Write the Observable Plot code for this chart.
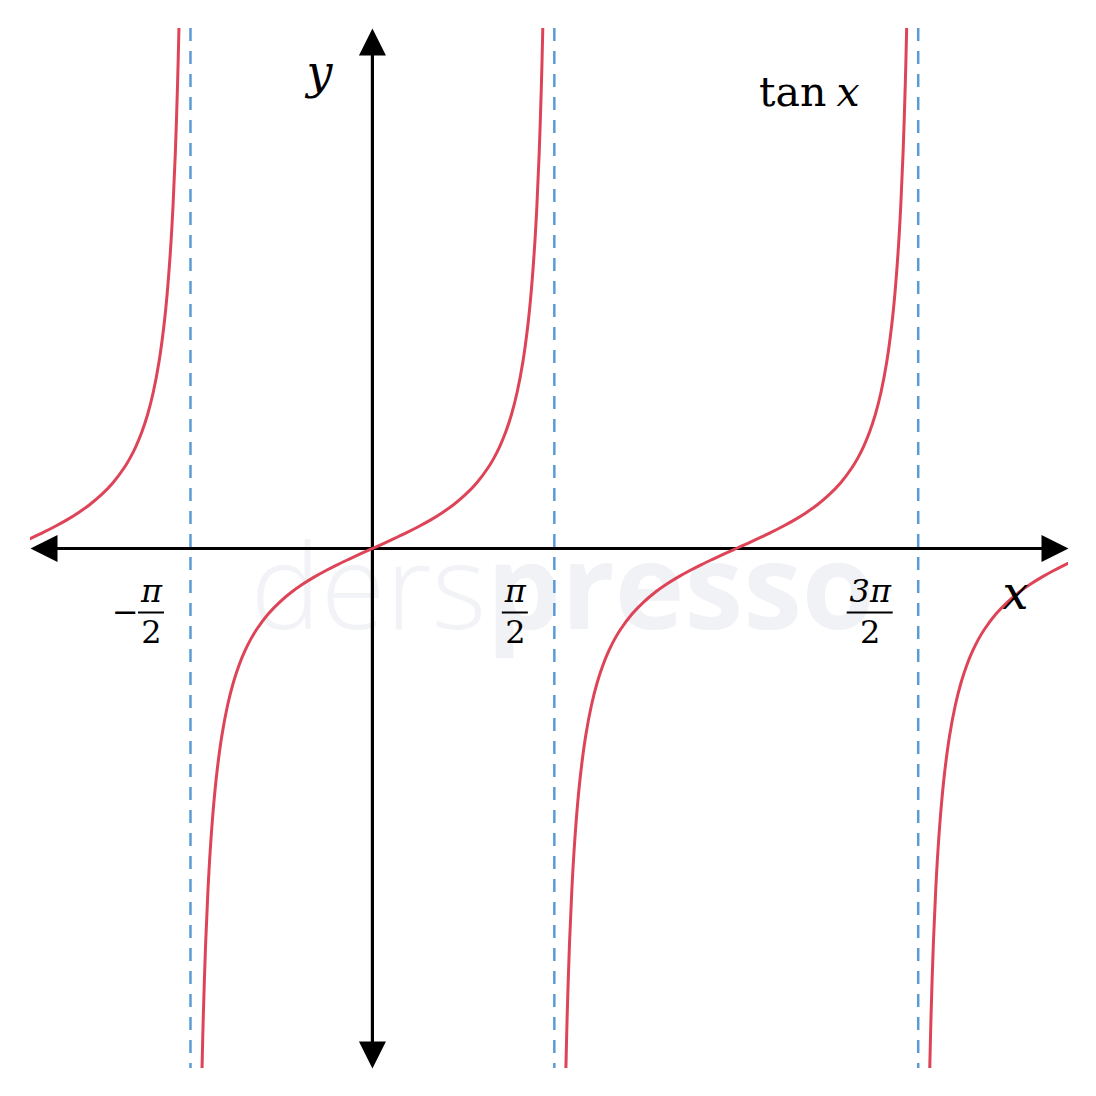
<!DOCTYPE html>
<html><head><meta charset="utf-8">
<script src="https://cdn.jsdelivr.net/npm/d3@7"></script>
<script src="https://cdn.jsdelivr.net/npm/@observablehq/plot@0.6"></script>
<style>body{margin:0;background:#fff}</style>
</head><body><div id="chart"></div>
<script>
// ---- data ----
const branchCenters = [-3.1416, 0, 3.1416, 6.2832];
const offsets = [-1.4711, -1.46, -1.44, -1.42, -1.40, -1.37, -1.34, -1.30, -1.25, -1.20, -1.15, -1.10, -1.05, -1.00, -0.90, -0.80, -0.70, -0.60, -0.50, -0.40, -0.30, -0.20, -0.10, 0,
                 0.10, 0.20, 0.30, 0.40, 0.50, 0.60, 0.70, 0.80, 0.90, 1.00, 1.05, 1.10, 1.15, 1.20, 1.25, 1.30, 1.34, 1.37, 1.40, 1.42, 1.44, 1.46, 1.4711];
const tanValues = [-10, -8.988, -7.602, -6.581, -5.798, -4.913, -4.255, -3.602, -3.010, -2.572, -2.234, -1.965, -1.743, -1.557, -1.260, -1.030, -0.842, -0.684, -0.546, -0.423, -0.309, -0.203, -0.100, 0,
                   0.100, 0.203, 0.309, 0.423, 0.546, 0.684, 0.842, 1.030, 1.260, 1.557, 1.743, 1.965, 2.234, 2.572, 3.010, 3.602, 4.255, 4.913, 5.798, 6.581, 7.602, 8.988, 10];
const asymptotes = [-1.5708, 1.5708, 4.7124];
const tickSigns = ["−", "", ""];
const tickNumerators = ["π", "π", "3π"];
const tickDenominators = ["2", "2", "2"];
const xExtent = [-2.952, 6.010];
const yExtent = [-10, 10];
const title = ["tan", "x"];
const axisNames = ["x", "y"];
const watermark = ["ders", "presso"];

// ---- layout ----
const W = 1096, H = 1096;
const mL = 30, mR = 28, mT = 28, mB = 28;
const pxPerX = (W - mL - mR) / (xExtent[1] - xExtent[0]);
const pxPerY = (H - mT - mB) / (yExtent[1] - yExtent[0]);
const serif = "DejaVu Serif";
const red = "#de4458", blue = "#5b9bd5";

const rows = branchCenters.flatMap((c, b) => offsets.map((u, i) => ({branch: b, x: c + u, y: tanValues[i]})));

const head = {draw(ctx) { ctx.moveTo(0, 0); ctx.lineTo(13.5, 27); ctx.lineTo(-13.5, 27); ctx.closePath(); }};
const heads = [
  {x: xExtent[0], y: 0, r: -90},
  {x: xExtent[1], y: 0, r: 90},
  {x: 0, y: yExtent[1], r: 0},
  {x: 0, y: yExtent[0], r: 180}
];

const labelShift = [39, 39, 48];
const barWidth = [26, 26, 46];
const tickMarks = asymptotes.flatMap((a, i) => {
  const cx = a - labelShift[i] / pxPerX;
  const m = [
    Plot.text([tickNumerators[i]], {x: cx, y: 0, text: d => d, dy: 53, lineAnchor: "bottom", textAnchor: "middle", fontFamily: serif, fontStyle: "italic", fontSize: 32, fill: "black"}),
    Plot.text([tickDenominators[i]], {x: cx, y: 0, text: d => d, dy: 94, lineAnchor: "bottom", textAnchor: "middle", fontFamily: serif, fontSize: 32, fill: "black"}),
    Plot.ruleY([0], {x1: cx - barWidth[i] / 2 / pxPerX, x2: cx + barWidth[i] / 2 / pxPerX, dy: 64, stroke: "black", strokeWidth: 2})
  ];
  if (tickSigns[i]) m.push(Plot.text([tickSigns[i]], {x: a, y: 0, text: d => d, dx: -65, dy: 64, lineAnchor: "middle", textAnchor: "middle", fontFamily: serif, fontSize: 32, fill: "black"}));
  return m;
});

const chart = Plot.plot({
  width: W, height: H,
  marginLeft: mL, marginRight: mR, marginTop: mT, marginBottom: mB,
  x: {domain: xExtent, axis: null},
  y: {domain: yExtent, axis: null},
  style: {background: "white"},
  marks: [
    // faint watermark
    Plot.text([watermark[0]], {frameAnchor: "top-left", text: d => d, dx: 220, dy: 600, lineAnchor: "bottom", textAnchor: "start", fontFamily: "Open Sans", fontWeight: 300, fontSize: 118, fill: "#f2f3f6"}),
    Plot.text([watermark[1]], {frameAnchor: "top-left", text: d => d, dx: 456, dy: 600, lineAnchor: "bottom", textAnchor: "start", fontFamily: "Open Sans", fontWeight: 700, fontSize: 118, fill: "#f1f2f5"}),
    // asymptotes
    Plot.ruleX(asymptotes, {y1: yExtent[1], y2: yExtent[0], stroke: blue, strokeWidth: 2.5, strokeDasharray: "13 10"}),
    // axes
    Plot.ruleY([0], {x1: xExtent[0] + 20 / pxPerX, x2: xExtent[1] - 20 / pxPerX, stroke: "black", strokeWidth: 3.2}),
    Plot.ruleX([0], {y1: yExtent[1] - 20 / pxPerY, y2: yExtent[0] + 20 / pxPerY, stroke: "black", strokeWidth: 3.2}),
    // tan curve
    Plot.line(rows, {x: "x", y: "y", z: "branch", stroke: red, strokeWidth: 3, curve: "catmull-rom", clip: true}),
    // arrow heads
    Plot.dot(heads, {x: "x", y: "y", rotate: "r", symbol: head, fill: "black", stroke: "none"}),
    // tick labels
    ...tickMarks,
    // axis names
    Plot.text([axisNames[0]], {x: 5.553, y: -1.154, text: d => d, lineAnchor: "bottom", textAnchor: "middle", fontFamily: serif, fontStyle: "italic", fontSize: 46, fill: "black"}),
    Plot.text([axisNames[1]], {x: -0.457, y: 8.865, text: d => d, lineAnchor: "bottom", textAnchor: "middle", fontFamily: serif, fontStyle: "italic", fontSize: 46, fill: "black"}),
    // title
    Plot.text([title[0]], {x: 3.338, y: 8.519, text: d => d, lineAnchor: "bottom", textAnchor: "start", fontFamily: serif, fontSize: 41, fill: "black"}),
    Plot.text([title[1]], {x: 4.007, y: 8.519, text: d => d, lineAnchor: "bottom", textAnchor: "start", fontFamily: serif, fontStyle: "italic", fontSize: 41, fill: "black"})
  ]
});
document.getElementById("chart").appendChild(chart);
</script>
</body></html>
